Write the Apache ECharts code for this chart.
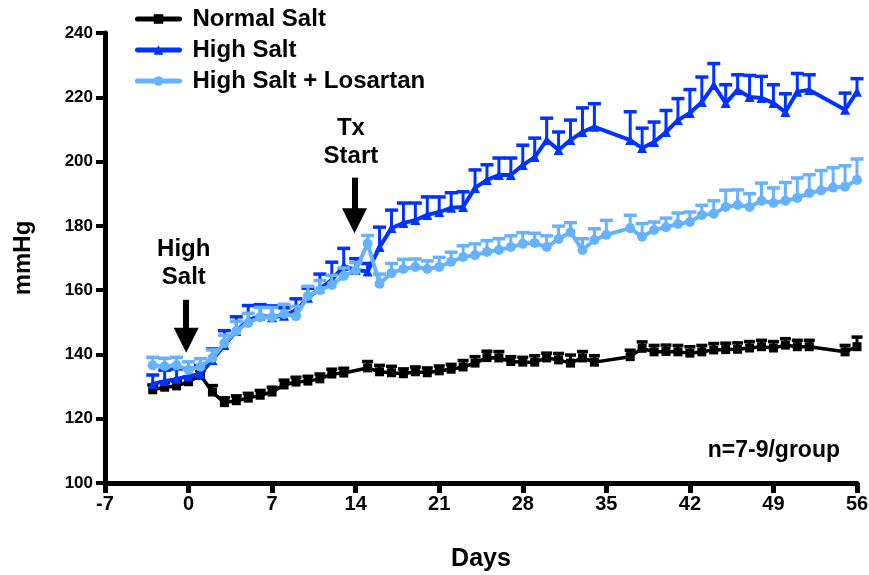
<!DOCTYPE html>
<html>
<head>
<meta charset="utf-8">
<script src="https://cdn.jsdelivr.net/npm/echarts@6/dist/echarts.min.js"></script>
<style>
  html, body { margin: 0; padding: 0; background: #fff; }
  #chart { width: 869px; height: 575px; }
</style>
</head>
<body>
<div id="chart"></div>
<script>
// Blood pressure (mmHg, mean with upper SEM) by study day
const seriesNames = ['Normal Salt', 'High Salt', 'High Salt + Losartan'];

const normalDays = [-3,-2,-1,0,1,2,3,4,5,6,7,8,9,10,11,12,13,15,16,17,18,19,20,21,22,23,24,25,26,27,28,29,30,31,32,33,34,37,38,39,40,41,42,43,44,45,46,47,48,49,50,51,52,55,56];
const normalMean = [129.0,129.8,130.2,131.5,133.5,128.3,125.0,125.6,126.4,127.3,128.3,130.5,131.4,131.7,132.4,133.9,134.2,135.8,134.6,134.3,134.0,134.6,134.3,134.9,135.4,136.1,137.3,139.0,138.9,137.8,137.6,137.6,138.9,138.3,137.3,138.9,137.6,139.3,141.9,140.8,140.9,140.8,140.4,140.8,141.4,141.5,141.6,142.0,142.4,142.0,142.9,142.4,142.4,140.8,142.4];
const normalSem = [1.5,1.5,1.5,1.5,1.5,2.0,1.5,1.5,1.5,1.5,1.5,1.5,1.5,1.5,1.5,1.5,1.5,2.0,2.0,2.0,1.5,1.5,1.5,1.5,1.5,2.0,2.0,2.0,2.0,1.5,1.5,2.0,1.5,2.0,2.5,2.0,2.0,2.0,2.0,2.0,2.0,2.0,2.0,2.0,2.0,2.0,2.0,2.0,2.0,2.0,2.0,2.0,2.0,2.0,3.0];

const highDays = [-3,-2,-1,0,1,2,3,4,5,6,7,8,9,10,11,12,13,14,15,16,17,18,19,20,21,22,23,24,25,26,27,28,29,30,31,32,33,34,37,38,39,40,41,42,43,44,45,46,47,48,49,50,51,52,55,56];
const highMean = [130.8,131.7,132.4,133.2,134.0,138.3,142.9,147.3,150.7,152.0,151.6,152.0,153.8,157.6,160.5,163.2,167.5,166.3,165.8,173.4,179.3,180.9,181.8,183.4,184.3,185.6,185.9,191.8,194.3,195.8,195.8,198.9,201.4,206.7,203.6,206.7,209.2,210.8,206.7,204.2,206.1,209.2,212.9,215.1,218.5,223.8,218.2,222.3,220.1,219.8,218.2,215.4,221.7,222.3,216.1,221.7];
const highSem = [2.8,3.4,3.1,2.5,2.5,3.4,4.5,4.4,4.5,3.5,3.5,2.5,3.5,3.0,4.5,5.5,5.5,3.5,2.5,6.2,5.6,6.2,5.3,5.6,4.7,4.7,4.7,5.6,4.7,5.3,5.3,6.2,5.9,6.8,5.6,6.2,7.5,7.2,8.8,6.2,6.2,6.7,6.7,7.3,7.8,6.7,5.7,4.7,6.7,6.7,5.7,5.7,5.7,4.7,5.2,4.1];

const losDays = [-3,-2,-1,0,1,2,3,4,5,6,7,8,9,10,11,12,13,14,15,16,17,18,19,20,21,22,23,24,25,26,27,28,29,30,31,32,33,34,35,37,38,39,40,41,42,43,44,45,46,47,48,49,50,51,52,53,54,55,56];
const losMean = [136.6,136.3,136.6,135.2,136.2,138.9,143.5,147.3,149.8,151.6,151.6,152.6,151.9,158.2,160.0,161.6,164.4,166.1,174.5,162.0,165.3,166.6,167.2,166.6,167.2,168.8,170.3,170.9,171.9,172.5,173.4,174.4,174.7,173.4,175.9,178.0,172.5,175.6,177.2,179.3,176.6,178.7,179.6,180.6,181.2,183.4,183.8,185.9,186.5,185.9,187.8,187.1,187.8,188.7,190.2,191.0,191.9,192.2,194.3];
const losSem = [2.5,2.5,2.5,2.5,2.5,2.5,2.5,3.0,3.0,3.0,3.0,3.0,3.0,3.0,3.0,3.0,2.5,2.5,2.5,3.0,3.0,3.0,2.5,2.5,3.0,3.0,3.5,3.5,3.5,3.5,3.5,3.5,3.0,3.5,4.0,3.0,3.5,3.5,4.5,4.0,4.1,2.5,2.8,3.4,3.1,3.0,4.0,5.2,4.7,4.1,5.5,4.7,5.7,6.2,5.7,6.2,6.2,6.5,6.5];

const xTicks = [-7, 0, 7, 14, 21, 28, 35, 42, 49, 56];
const yTicks = [100, 120, 140, 160, 180, 200, 220, 240];

const colors = ['#000000', '#0033ff', '#66b2ff'];
const FONT = 'Liberation Sans, Arial, sans-serif';

function rows(days, mean, sem) {
  return days.map((d, i) => [d, mean[i], sem[i]]);
}

// Upper error bar: stem from the mean to mean + SEM, with a flat cap
function errorBar(color, capWidth) {
  return function (params, api) {
    const x = api.value(0), y = api.value(1), e = api.value(2);
    const p0 = api.coord([x, y]);
    const p1 = api.coord([x, y + e]);
    return {
      type: 'group',
      children: [
        { type: 'line', shape: { x1: p0[0], y1: p0[1], x2: p1[0], y2: p1[1] },
          style: { stroke: color, lineWidth: 3 } },
        { type: 'line', shape: { x1: p1[0] - capWidth / 2, y1: p1[1], x2: p1[0] + capWidth / 2, y2: p1[1] },
          style: { stroke: color, lineWidth: 3.5 } }
      ]
    };
  };
}

const groups = [
  { name: seriesNames[0], data: rows(normalDays, normalMean, normalSem), color: colors[0], symbol: 'rect', size: 9, width: 3.5, cap: 11 },
  { name: seriesNames[1], data: rows(highDays, highMean, highSem), color: colors[1], symbol: 'triangle', size: 10, width: 4, cap: 13 },
  { name: seriesNames[2], data: rows(losDays, losMean, losSem), color: colors[2], symbol: 'circle', size: 10, width: 4, cap: 13 }
];

const series = [];
groups.forEach((g, i) => {
  series.push({
    type: 'custom',
    name: g.name + ' SEM',
    renderItem: errorBar(g.color, g.cap),
    data: g.data,
    encode: { x: 0, y: 1 },
    z: 2 + i * 2,
    silent: true
  });
  series.push({
    type: 'line',
    name: g.name,
    data: g.data.map(r => [r[0], r[1]]),
    symbol: g.symbol,
    symbolSize: g.size,
    showSymbol: true,
    color: g.color,
    lineStyle: { color: g.color, width: g.width },
    itemStyle: { color: g.color },
    z: 3 + i * 2,
    animation: false
  });
});

// Arrows and labels marking the start of the diet and of treatment
const annotations = [
  { text: 'High\nSalt', at: [-0.4, 168.2], from: [-0.2, 157.0], to: [-0.2, 144.4] },
  { text: 'Tx\nStart', at: [13.6, 206.0], from: [13.9, 195.0], to: [13.9, 181.6] }
];

series.push({
  type: 'line',
  name: 'annotations',
  data: [],
  z: 20,
  markLine: {
    silent: true,
    symbol: ['none', 'triangle'],
    symbolSize: 25,
    lineStyle: { color: '#000', width: 6, type: 'solid' },
    itemStyle: { color: '#000' },
    label: { show: false },
    animation: false,
    data: annotations.map(a => [{ coord: a.from }, { coord: a.to }])
  },
  markPoint: {
    silent: true,
    symbol: 'circle',
    symbolSize: 0,
    animation: false,
    label: {
      show: true,
      color: '#000',
      fontFamily: FONT,
      fontWeight: 'bold',
      fontSize: 24,
      lineHeight: 28,
      align: 'center'
    },
    data: annotations.map(a => ({ coord: a.at, value: a.text, label: { formatter: a.text } }))
  }
});

const chart = echarts.init(document.getElementById('chart'), null, { renderer: 'canvas' });
chart.setOption({
  animation: false,
  backgroundColor: '#ffffff',
  grid: { left: 105, right: 12, top: 33, bottom: 92, containLabel: false, outerBoundsMode: 'none' },
  legend: {
    data: seriesNames,
    orient: 'vertical',
    left: 130,
    top: 2,
    itemWidth: 42,
    itemHeight: 12,
    itemGap: 7,
    lineStyle: { width: 5, cap: 'round' },
    textStyle: {
      fontFamily: FONT,
      fontWeight: 'bold',
      fontSize: 24,
      color: '#000',
      padding: [0, 0, 0, 8]
    }
  },
  xAxis: {
    type: 'value',
    min: xTicks[0],
    max: xTicks[xTicks.length - 1],
    interval: 7,
    name: 'Days',
    nameLocation: 'middle',
    nameGap: 64,
    nameTextStyle: { fontFamily: FONT, fontWeight: 'bold', fontSize: 25, color: '#000' },
    axisLine: { onZero: false, lineStyle: { color: '#000', width: 5 } },
    axisTick: { show: true, length: 10, lineStyle: { color: '#000', width: 5 } },
    axisLabel: { color: '#000', fontFamily: FONT, fontWeight: 'bold', fontSize: 20, margin: 11 },
    splitLine: { show: false }
  },
  yAxis: {
    type: 'value',
    min: yTicks[0],
    max: yTicks[yTicks.length - 1],
    interval: 20,
    name: 'mmHg',
    nameLocation: 'middle',
    nameRotate: 90,
    nameGap: 70,
    nameTextStyle: { fontFamily: FONT, fontWeight: 'bold', fontSize: 24, color: '#000' },
    axisLine: { show: true, onZero: false, lineStyle: { color: '#000', width: 5 } },
    axisTick: { show: true, length: 9, lineStyle: { color: '#000', width: 4 } },
    axisLabel: { color: '#000', fontFamily: FONT, fontWeight: 'bold', fontSize: 17, margin: 12 },
    splitLine: { show: false }
  },
  graphic: [{
    type: 'text',
    right: 29,
    top: 439,
    style: { text: 'n=7-9/group', fill: '#000', font: 'bold 23px ' + FONT }
  }],
  series: series
});
</script>
</body>
</html>
